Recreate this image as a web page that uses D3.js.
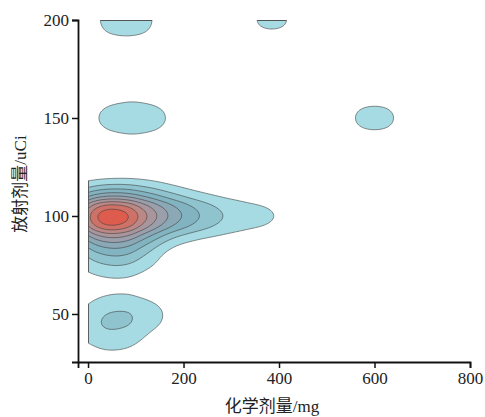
<!DOCTYPE html>
<html>
<head>
<meta charset="utf-8">
<script src="https://cdn.jsdelivr.net/npm/d3@7"></script>
<style>
  body { margin: 0; background: #fff; }
  svg { display: block; }
</style>
</head>
<body>
<div id="chart"></div>
<script>
// observations: chemical dose (mg), radiation dose (uCi), count
var chemDose = [0, 50, 100, 150, 200, 250, 300, 350, 400,
                0, 50, 100, 150,
                0, 50, 100,
                0, 50, 100,
                0, 50, 40, 130, 70,
                55, 130, 600,
                80, 385];
var radDose  = [100, 100, 100, 100, 100, 100, 100, 100, 100,
                112, 112, 112, 112,
                85, 85, 85,
                75, 75, 75,
                40, 47, 55, 50, 32,
                150, 150, 150,
                200, 200];
var count    = [2.8, 3.7, 1.8, 1.6, 1.0, 0.8, 0.4, 0.3, 0.45,
                0.25, 0.35, 0.35, 0.25,
                0.6, 1.1, 0.8,
                0.15, 0.35, 0.3,
                0.4, 1.0, 0.35, 0.7, 0.5,
                0.8, 0.8, 1.0,
                1.28, 0.9];

var xTicks = [0, 200, 400, 600, 800];
var yTicks = [50, 100, 150, 200];

var levelColors = ["#a6dbe3", "#8fc4cf", "#82b3c1", "#8aa8b6", "#9a9fab",
                   "#a9969c", "#bb8886", "#ce7267", "#dd5c4e"];

var W = 485, H = 417;

var data = chemDose.map(function (c, i) {
  return {chem: c, rad: radDose[i], n: count[i]};
});

var svg = d3.select("#chart").append("svg")
    .attr("width", W)
    .attr("height", H);

var x = d3.scaleLinear().domain([-21, 800]).range([78, 470]);
var y = d3.scaleLinear().domain([25.5, 200]).range([362, 20]);

// kernel is wider along x than along y
var kx = 1.62;
var bw = 14.7;

var density = d3.contourDensity()
    .x(function (d) { return x(d.chem) / kx; })
    .y(function (d) { return y(d.rad); })
    .weight(function (d) { return d.n; })
    .size([Math.ceil(W / kx), H])
    .cellSize(1)
    .bandwidth(bw)
    .thresholds(function (values) {
      var m = d3.max(values);
      return d3.range(1, 10).map(function (i) { return i * m / 9.7; });
    });

var contours = density(data);

var path = d3.geoPath(d3.geoTransform({
  point: function (px, py) { this.stream.point(px * kx, py); }
}));

var x0 = x(0), yTop = y(200);

svg.append("clipPath")
    .attr("id", "panel")
  .append("rect")
    .attr("x", x0)
    .attr("y", yTop)
    .attr("width", 470 - x0)
    .attr("height", 362 - yTop);

// thin strips along the cut edges, so the polygons look closed there
var edge = svg.append("clipPath").attr("id", "edges");
edge.append("rect").attr("x", x0).attr("y", yTop).attr("width", 0.9).attr("height", 362 - yTop);
edge.append("rect").attr("x", x0).attr("y", yTop).attr("width", 470 - x0).attr("height", 0.9);

svg.append("g")
    .attr("clip-path", "url(#panel)")
  .selectAll("path")
  .data(contours)
  .enter().append("path")
    .attr("d", path)
    .attr("fill", function (d, i) { return levelColors[Math.min(i, levelColors.length - 1)]; })
    .attr("stroke", "#3d3d3d")
    .attr("stroke-width", 0.7)
    .attr("stroke-opacity", 0.85);

svg.append("g")
    .attr("clip-path", "url(#edges)")
  .append("path")
    .datum(contours[0])
    .attr("d", path)
    .attr("fill", "#555");

// axes
var xAxis = svg.append("g")
    .attr("transform", "translate(0,362)")
    .call(d3.axisBottom(x).tickValues(xTicks).tickSizeOuter(0).tickSize(6).tickPadding(4));

var yAxis = svg.append("g")
    .attr("transform", "translate(78,0)")
    .call(d3.axisLeft(y).tickValues(yTicks).tickSizeOuter(0).tickSize(6).tickPadding(3));

[xAxis, yAxis].forEach(function (g) {
  g.select(".domain").attr("stroke", "#111").attr("stroke-width", 1.8);
  g.selectAll(".tick line").attr("stroke", "#111").attr("stroke-width", 1.5);
  g.selectAll(".tick text")
      .style("font-family", "'Liberation Serif', 'Times New Roman', serif")
      .style("font-size", "17px")
      .attr("fill", "#222");
});

// axis titles
svg.append("text")
    .attr("x", 272)
    .attr("y", 412)
    .attr("text-anchor", "middle")
    .style("font-family", "'Liberation Serif', 'Noto Sans CJK SC', serif")
    .style("font-size", "17px")
    .attr("fill", "#222")
    .text("化学剂量/mg");

svg.append("text")
    .attr("transform", "translate(26,184) rotate(-90)")
    .attr("text-anchor", "middle")
    .style("font-family", "'Liberation Serif', 'Noto Sans CJK SC', serif")
    .style("font-size", "17px")
    .attr("fill", "#222")
    .text("放射剂量/uCi");
</script>
</body>
</html>
